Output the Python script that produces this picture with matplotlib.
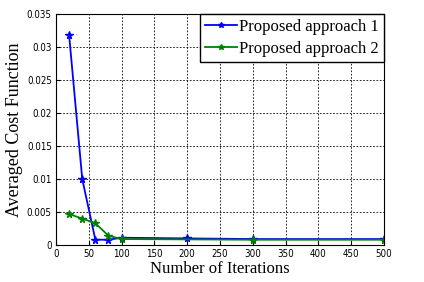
import matplotlib
matplotlib.use("Agg")
import matplotlib.pyplot as plt

# iterations and averaged cost values
iters_1 = [20, 40, 60, 80, 100, 200, 300, 500]
cost_1 = [0.0318, 0.0100, 0.0008, 0.0008, 0.0011, 0.0010, 0.0009, 0.0009]

iters_2 = [20, 40, 60, 80, 100, 300, 500]
cost_2 = [0.0047, 0.0040, 0.0033, 0.0014, 0.0009, 0.0008, 0.0008]

labels = ["Proposed approach 1", "Proposed approach 2"]
xticks = list(range(0, 501, 50))
yticks = [0, 0.005, 0.01, 0.015, 0.02, 0.025, 0.03, 0.035]

fig = plt.figure(figsize=(4.24, 2.82), dpi=100)
ax = fig.add_axes([56 / 424, 37 / 282, 328 / 424, 231 / 282])

ax.plot(iters_1, cost_1, color="blue", marker="*", markersize=5.5, lw=1.3, label=labels[0])
ax.plot(iters_2, cost_2, color="green", marker="*", markersize=5.5, lw=1.3, label=labels[1])

ax.set_xlim(0, 500)
ax.set_ylim(0, 0.035)
ax.set_xticks(xticks)
ax.set_yticks(yticks)
ax.set_yticklabels(["0", "0.005", "0.01", "0.015", "0.02", "0.025", "0.03", "0.035"])
ax.tick_params(labelsize=7, direction="in", length=3, pad=3)
for t in ax.get_xticklabels() + ax.get_yticklabels():
    t.set_fontfamily("DejaVu Sans")
    t.set_fontstretch("condensed")
ax.grid(True, color="black", linestyle=(0, (2, 2)), linewidth=0.6)

ax.set_xlabel("Number of Iterations", family="Liberation Serif", fontsize=12, labelpad=1)
ax.set_ylabel("Averaged Cost Function", family="Liberation Serif", fontsize=13, labelpad=3)

leg = ax.legend(loc="upper right", prop={"family": "Liberation Serif", "size": 12},
                borderaxespad=0, handlelength=1.9, handletextpad=0.15,
                labelspacing=0.35, borderpad=0.3, fancybox=False, framealpha=1,
                edgecolor="black", markerscale=0.8)
leg.get_frame().set_linewidth(1.0)

fig.savefig("out.png", dpi=100)
